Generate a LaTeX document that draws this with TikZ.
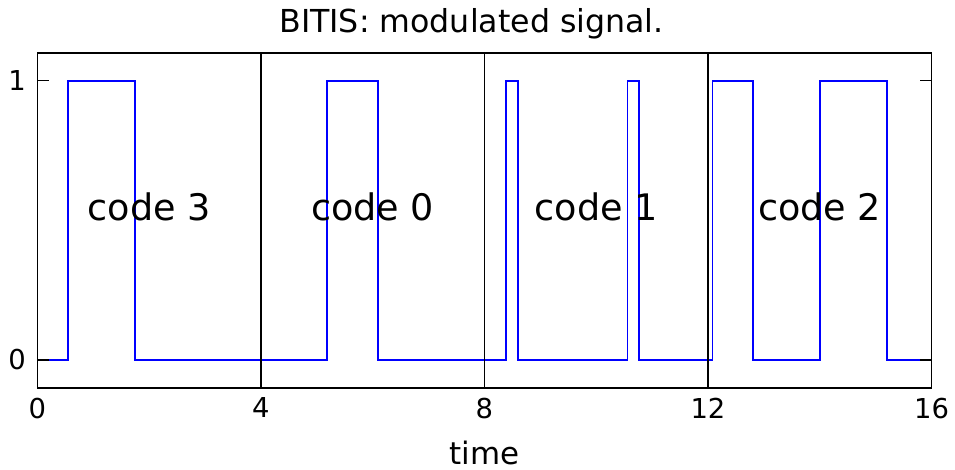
\documentclass[tikz,border=0pt]{standalone}
\usepackage{fontspec}
\setmainfont{DejaVu Sans}
\tikzset{
    signal/.style={blue, line width=1.3pt, line join=miter},
    frame/.style={black, line width=1.1pt},
    ticklabel/.style={font=\fontsize{19.5}{22}\selectfont, inner sep=0pt},
    codelabel/.style={font=\fontsize{26}{30}\selectfont, inner sep=0pt},
}
\begin{document}
\begin{tikzpicture}[x=1.3975cm, y=6.9825cm]
        \useasboundingbox (-0.667,-0.394) rectangle (16.42,1.289);
        %% modulated signal
        \draw[signal] (0,0)
            \foreach \a/\b in {0.555/1.748, 5.19/6.09, 8.38/8.60, 10.56/10.77, 12.08/12.80, 14.00/15.21} {
                -- (\a,0) -- (\a,1) -- (\b,1) -- (\b,0)
            } -- (16,0);
        %% code boundaries
        \foreach \x in {4,8,12}
            \draw[frame] (\x,-0.1) -- (\x,1.1);
        %% axes frame
        \draw[frame] (0,-0.1) rectangle (16,1.1);
        \foreach \y in {0,1} {
            \draw[frame] (0,\y) -- ++(0.215,0);
            \draw[frame] (16,\y) -- ++(-0.215,0);
            \node[ticklabel, anchor=east] (ytick\y) at (-0.2,\y) {\y};
        }
        \foreach \x in {0,4,...,16} {
            \draw[frame] (\x,-0.1) -- ++(0,0.043);
            \draw[frame] (\x,1.1) -- ++(0,-0.043);
            \node[ticklabel, anchor=north] (xtick\x) at (\x,-0.135) {\x};
        }
        %% labels
        \foreach \c/\x in {3/2, 0/6, 1/10, 2/14}
            \node[codelabel] (code\c) at (\x,0.548) {code \c};
        \node[font=\fontsize{22}{26}\selectfont, inner sep=0pt] (xlabel) at (8,-0.333) {time};
        \node[font=\fontsize{22.5}{26}\selectfont, inner sep=0pt] (title) at (7.77,1.203) {BITIS: modulated signal.};
    \end{tikzpicture}
\end{document}
